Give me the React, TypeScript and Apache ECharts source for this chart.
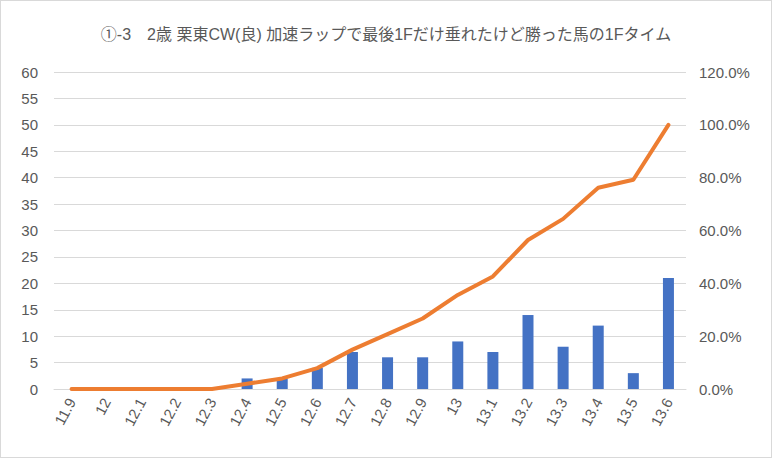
import React, { useEffect, useRef } from "react";
import * as echarts from "echarts";

const categories = ["11.9", "12", "12.1", "12.2", "12.3", "12.4", "12.5", "12.6", "12.7", "12.8", "12.9", "13", "13.1", "13.2", "13.3", "13.4", "13.5", "13.6"];
const counts = [0, 0, 0, 0, 0, 2, 2, 4, 7, 6, 6, 9, 7, 14, 8, 12, 3, 21];
const cumulativePct = [0, 0, 0, 0, 0, 2.0, 4.0, 7.9, 14.9, 20.8, 26.7, 35.6, 42.6, 56.4, 64.4, 76.2, 79.2, 100];
const titleText = "①-3　2歳 栗東CW(良) 加速ラップで最後1Fだけ垂れたけど勝った馬の1Fタイム";

const FONT = "'Liberation Sans', 'Noto Sans CJK JP', sans-serif";
const TXT = "#595959";

export default function App() {
  const ref = useRef<HTMLDivElement>(null);
  useEffect(() => {
    if (!ref.current) return;
    const chart = echarts.init(ref.current, undefined, { renderer: "svg" });
    chart.setOption({
      animation: false,
      backgroundColor: "#ffffff",
      title: {
        text: titleText,
        left: "center",
        top: 20,
        textStyle: { color: TXT, fontSize: 16, fontWeight: "normal", fontFamily: FONT },
      },
      grid: { left: 53, right: 85, top: 71, bottom: 68 },
      xAxis: {
        type: "category",
        data: categories,
        axisLine: { show: true, lineStyle: { color: "#d9d9d9", width: 1 } },
        axisTick: { show: false },
        axisLabel: { color: TXT, fontSize: 15, fontFamily: FONT, rotate: 62, margin: 10, interval: 0 },
      },
      yAxis: [
        {
          type: "value",
          min: 0,
          max: 60,
          interval: 5,
          axisLine: { show: false },
          axisTick: { show: false },
          splitLine: { lineStyle: { color: "#d9d9d9", width: 1 } },
          axisLabel: { color: TXT, fontSize: 15, fontFamily: FONT, margin: 16 },
        },
        {
          type: "value",
          min: 0,
          max: 120,
          interval: 20,
          position: "right",
          axisLine: { show: false },
          axisTick: { show: false },
          splitLine: { show: false },
          axisLabel: { color: TXT, fontSize: 15, fontFamily: FONT, margin: 13, formatter: (v: number) => v.toFixed(1) + "%" },
        },
      ],
      series: [
        {
          type: "bar",
          data: counts,
          barWidth: 11,
          itemStyle: { color: "#4472C4" },
          yAxisIndex: 0,
        },
        {
          type: "line",
          data: cumulativePct,
          yAxisIndex: 1,
          symbol: "none",
          lineStyle: { color: "#ED7D31", width: 4, cap: "round", join: "round" },
          itemStyle: { color: "#ED7D31" },
        },
      ],
    });
    return () => chart.dispose();
  }, []);
  return (
    <div
      ref={ref}
      style={{
        position: "fixed",
        left: 0,
        top: 0,
        width: 772,
        height: 458,
        boxSizing: "border-box",
        border: "1px solid #d9d9d9",
        background: "#fff",
      }}
    />
  );
}
